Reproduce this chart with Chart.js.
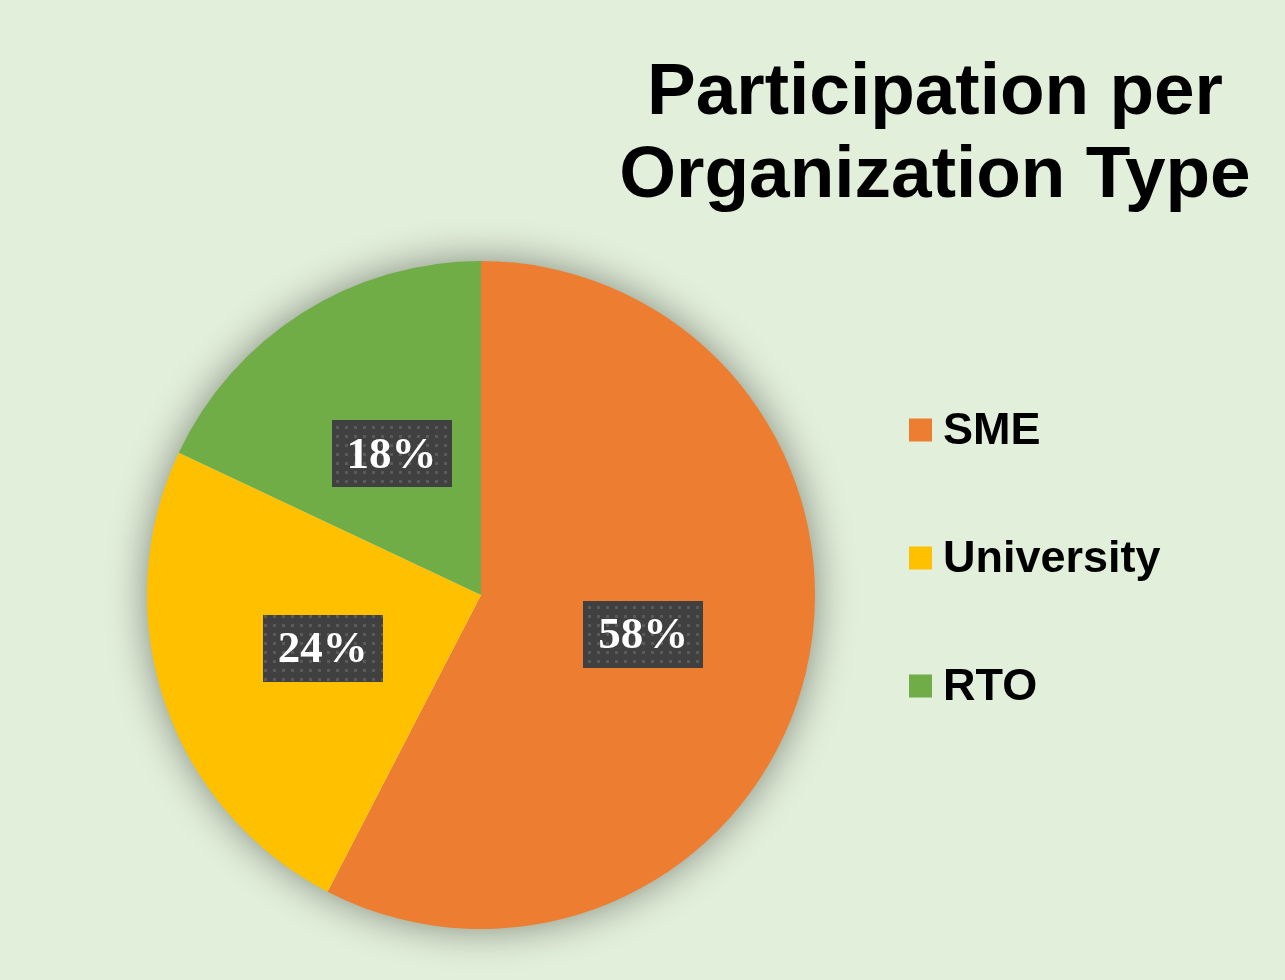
<!DOCTYPE html>
<html>
<head>
<meta charset="utf-8">
<script src="https://cdn.jsdelivr.net/npm/chart.js@4.4.1/dist/chart.umd.min.js"></script>
<style>
  html, body { margin: 0; padding: 0; background: #E2EFDA; }
  canvas { display: block; }
</style>
</head>
<body>
<canvas id="pie-chart" width="1285" height="980"></canvas>
<script>
const titleLines = ["Participation per", "Organization Type"];
const categories = ["SME", "University", "RTO"];
const shares = [57.6, 24.4, 18.0];
const sliceColors = ["#ED7D31", "#FFC000", "#70AD47"];

// dotted dark fill used behind the percentage labels
function makeLabelPattern(ctx) {
  const tile = document.createElement("canvas");
  tile.width = 9;
  tile.height = 9;
  const t = tile.getContext("2d");
  t.fillStyle = "#404040";
  t.fillRect(0, 0, 9, 9);
  t.fillStyle = "#5a5a5a";
  t.fillRect(3, 3, 3, 3);
  return ctx.createPattern(tile, "repeat");
}

const pieShadow = {
  id: "pieShadow",
  beforeDatasetsDraw(chart) {
    const arc = chart.getDatasetMeta(0).data[0];
    if (!arc) return;
    const ctx = chart.ctx;
    ctx.save();
    ctx.shadowColor = "rgba(0, 0, 0, 0.45)";
    ctx.shadowBlur = 40;
    ctx.fillStyle = "#E2EFDA";
    ctx.beginPath();
    ctx.arc(arc.x, arc.y, arc.outerRadius - 1, 0, Math.PI * 2);
    ctx.fill();
    ctx.restore();
  }
};

const percentLabels = {
  id: "percentLabels",
  afterDatasetsDraw(chart) {
    const ctx = chart.ctx;
    const pattern = makeLabelPattern(ctx);
    const total = shares.reduce((a, b) => a + b, 0);
    ctx.save();
    ctx.font = "bold 45px 'Liberation Serif', 'Times New Roman', serif";
    ctx.textAlign = "center";
    ctx.textBaseline = "middle";
    chart.getDatasetMeta(0).data.forEach((arc, i) => {
      const pos = arc.getCenterPoint();
      const text = Math.round(shares[i] / total * 100) + "%";
      const w = ctx.measureText(text).width + 30;
      const h = 67;
      ctx.fillStyle = pattern;
      ctx.fillRect(Math.round(pos.x - w / 2), Math.round(pos.y - h / 2), Math.round(w), h);
      ctx.fillStyle = "#FFFFFF";
      ctx.fillText(text, pos.x, pos.y + 2);
    });
    ctx.restore();
  }
};

const titleAndLegend = {
  id: "titleAndLegend",
  afterDraw(chart) {
    const ctx = chart.ctx;
    ctx.save();
    ctx.fillStyle = "#000000";
    ctx.textAlign = "center";
    ctx.textBaseline = "alphabetic";
    ctx.font = "bold 73px 'Liberation Sans', Arial, sans-serif";
    titleLines.forEach((line, i) => {
      ctx.fillText(line, 935, 114 + i * 83);
    });

    ctx.font = "bold 45px 'Liberation Sans', Arial, sans-serif";
    ctx.textAlign = "left";
    ctx.textBaseline = "middle";
    categories.forEach((name, i) => {
      const y = 430 + i * 128;
      ctx.fillStyle = sliceColors[i];
      ctx.fillRect(909, y - 11.5, 23, 23);
      ctx.fillStyle = "#000000";
      ctx.fillText(name, 943, y + 2);
    });
    ctx.restore();
  }
};

const context = document.querySelector("#pie-chart").getContext("2d");
const chart = new Chart(context, {
  type: "pie",
  data: {
    labels: categories,
    datasets: [{
      data: shares,
      backgroundColor: sliceColors,
      borderWidth: 0
    }]
  },
  options: {
    responsive: false,
    animation: false,
    layout: {
      padding: { left: 147, top: 261, right: 470, bottom: 51 }
    },
    plugins: {
      legend: { display: false },
      title: { display: false },
      tooltip: { enabled: false }
    }
  },
  plugins: [pieShadow, percentLabels, titleAndLegend]
});
</script>
</body>
</html>
